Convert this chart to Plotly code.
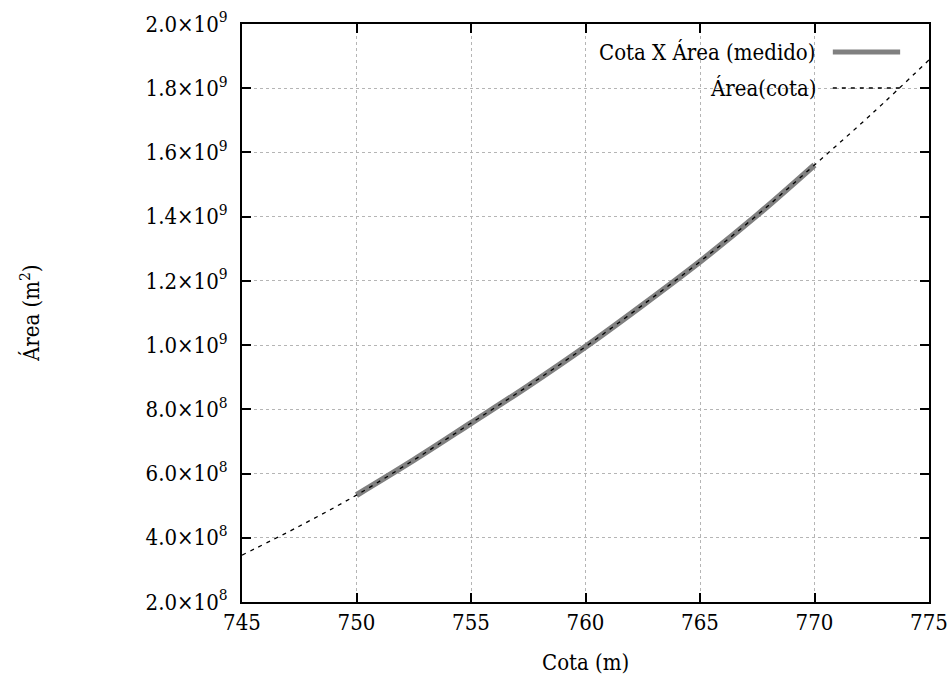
import plotly.graph_objects as go

# Measured series (Cota X Área (medido))
cota_medido = [750, 752.5, 755, 757.5, 760, 762.5, 765, 767.5, 770]
area_medido = [5.33e8, 6.42e8, 7.57e8, 8.73e8, 9.95e8, 1.125e9, 1.26e9, 1.405e9, 1.561e9]

# Fitted curve (Área(cota))
cota_ajuste = [745, 747.5, 750, 752.5, 755, 757.5, 760, 762.5, 765, 767.5, 770, 772.5, 775]
area_ajuste = [3.46e8, 4.36e8, 5.33e8, 6.42e8, 7.57e8, 8.73e8, 9.95e8, 1.125e9, 1.26e9,
               1.405e9, 1.561e9, 1.72e9, 1.888e9]

x_ticks = [745, 750, 755, 760, 765, 770, 775]
y_ticks = [2e8, 4e8, 6e8, 8e8, 1e9, 1.2e9, 1.4e9, 1.6e9, 1.8e9, 2e9]
y_ticktext = ["2.0×10<sup>8</sup>", "4.0×10<sup>8</sup>", "6.0×10<sup>8</sup>", "8.0×10<sup>8</sup>",
              "1.0×10<sup>9</sup>", "1.2×10<sup>9</sup>", "1.4×10<sup>9</sup>", "1.6×10<sup>9</sup>",
              "1.8×10<sup>9</sup>", "2.0×10<sup>9</sup>"]

legend_labels = ["Cota X Área (medido)", "Área(cota)"]

FONT = "DejaVu Serif Condensed, DejaVu Serif"
FS = 22

fig = go.Figure()
fig.add_trace(go.Scatter(x=cota_medido, y=area_medido, mode="lines",
                         line=dict(color="#808080", width=6, shape="spline"),
                         name=legend_labels[0], showlegend=False))
fig.add_trace(go.Scatter(x=cota_ajuste, y=area_ajuste, mode="lines",
                         line=dict(color="#000000", width=1.3, dash="4px,5px", shape="spline"),
                         name=legend_labels[1], showlegend=False))

# white legend box (hides grid, under traces)
fig.add_shape(type="rect", xref="paper", yref="paper", x0=0.415, x1=0.977, y0=0.858, y1=1.0,
              fillcolor="white", line=dict(width=0), layer="between")
# legend samples
fig.add_shape(type="line", xref="paper", yref="paper", x0=0.860, x1=0.958, y0=0.9516, y1=0.9516,
              line=dict(color="#808080", width=5))
fig.add_shape(type="line", xref="paper", yref="paper", x0=0.860, x1=0.958, y0=0.8893, y1=0.8893,
              line=dict(color="#000000", width=1.3, dash="4px,5px"))
fig.add_annotation(text=legend_labels[0], xref="paper", yref="paper", x=0.8384, y=0.9516,
                   xanchor="right", yanchor="middle", showarrow=False,
                   font=dict(family=FONT, size=FS, color="black"))
fig.add_annotation(text=legend_labels[1], xref="paper", yref="paper", x=0.8384, y=0.8893,
                   xanchor="right", yanchor="middle", showarrow=False,
                   font=dict(family=FONT, size=FS, color="black"))

# axis titles
fig.add_annotation(text="Cota (m)", xref="paper", yref="paper", x=0.5, y=-0.1055,
                   xanchor="center", yanchor="middle", showarrow=False,
                   font=dict(family=FONT, size=FS, color="black"))
fig.add_annotation(text="Área (m<sup>2</sup>)", xref="paper", yref="paper", x=-0.3086, y=0.5,
                   xanchor="center", yanchor="middle", showarrow=False, textangle=-90,
                   font=dict(family=FONT, size=FS, color="black"))

axis_common = dict(showline=True, linecolor="black", linewidth=2, mirror="allticks",
                   ticks="inside", ticklen=9, tickwidth=2, tickcolor="black",
                   showgrid=True, gridcolor="#b5b5b5", gridwidth=1, griddash="dot",
                   zeroline=False, automargin=False,
                   tickfont=dict(family=FONT, size=FS, color="black"))

fig.update_xaxes(range=[745, 775], tickmode="array", tickvals=x_ticks,
                 ticktext=[str(v) for v in x_ticks], **axis_common)
fig.update_yaxes(range=[2e8, 2e9], tickmode="array", tickvals=y_ticks,
                 ticktext=y_ticktext, ticklabelstandoff=8, **axis_common)

fig.update_layout(width=952, height=675, margin=dict(l=242, r=23, t=24, b=73),
                  paper_bgcolor="white", plot_bgcolor="white",
                  font=dict(family=FONT, size=FS, color="black"))

fig.write_html("out.html")
